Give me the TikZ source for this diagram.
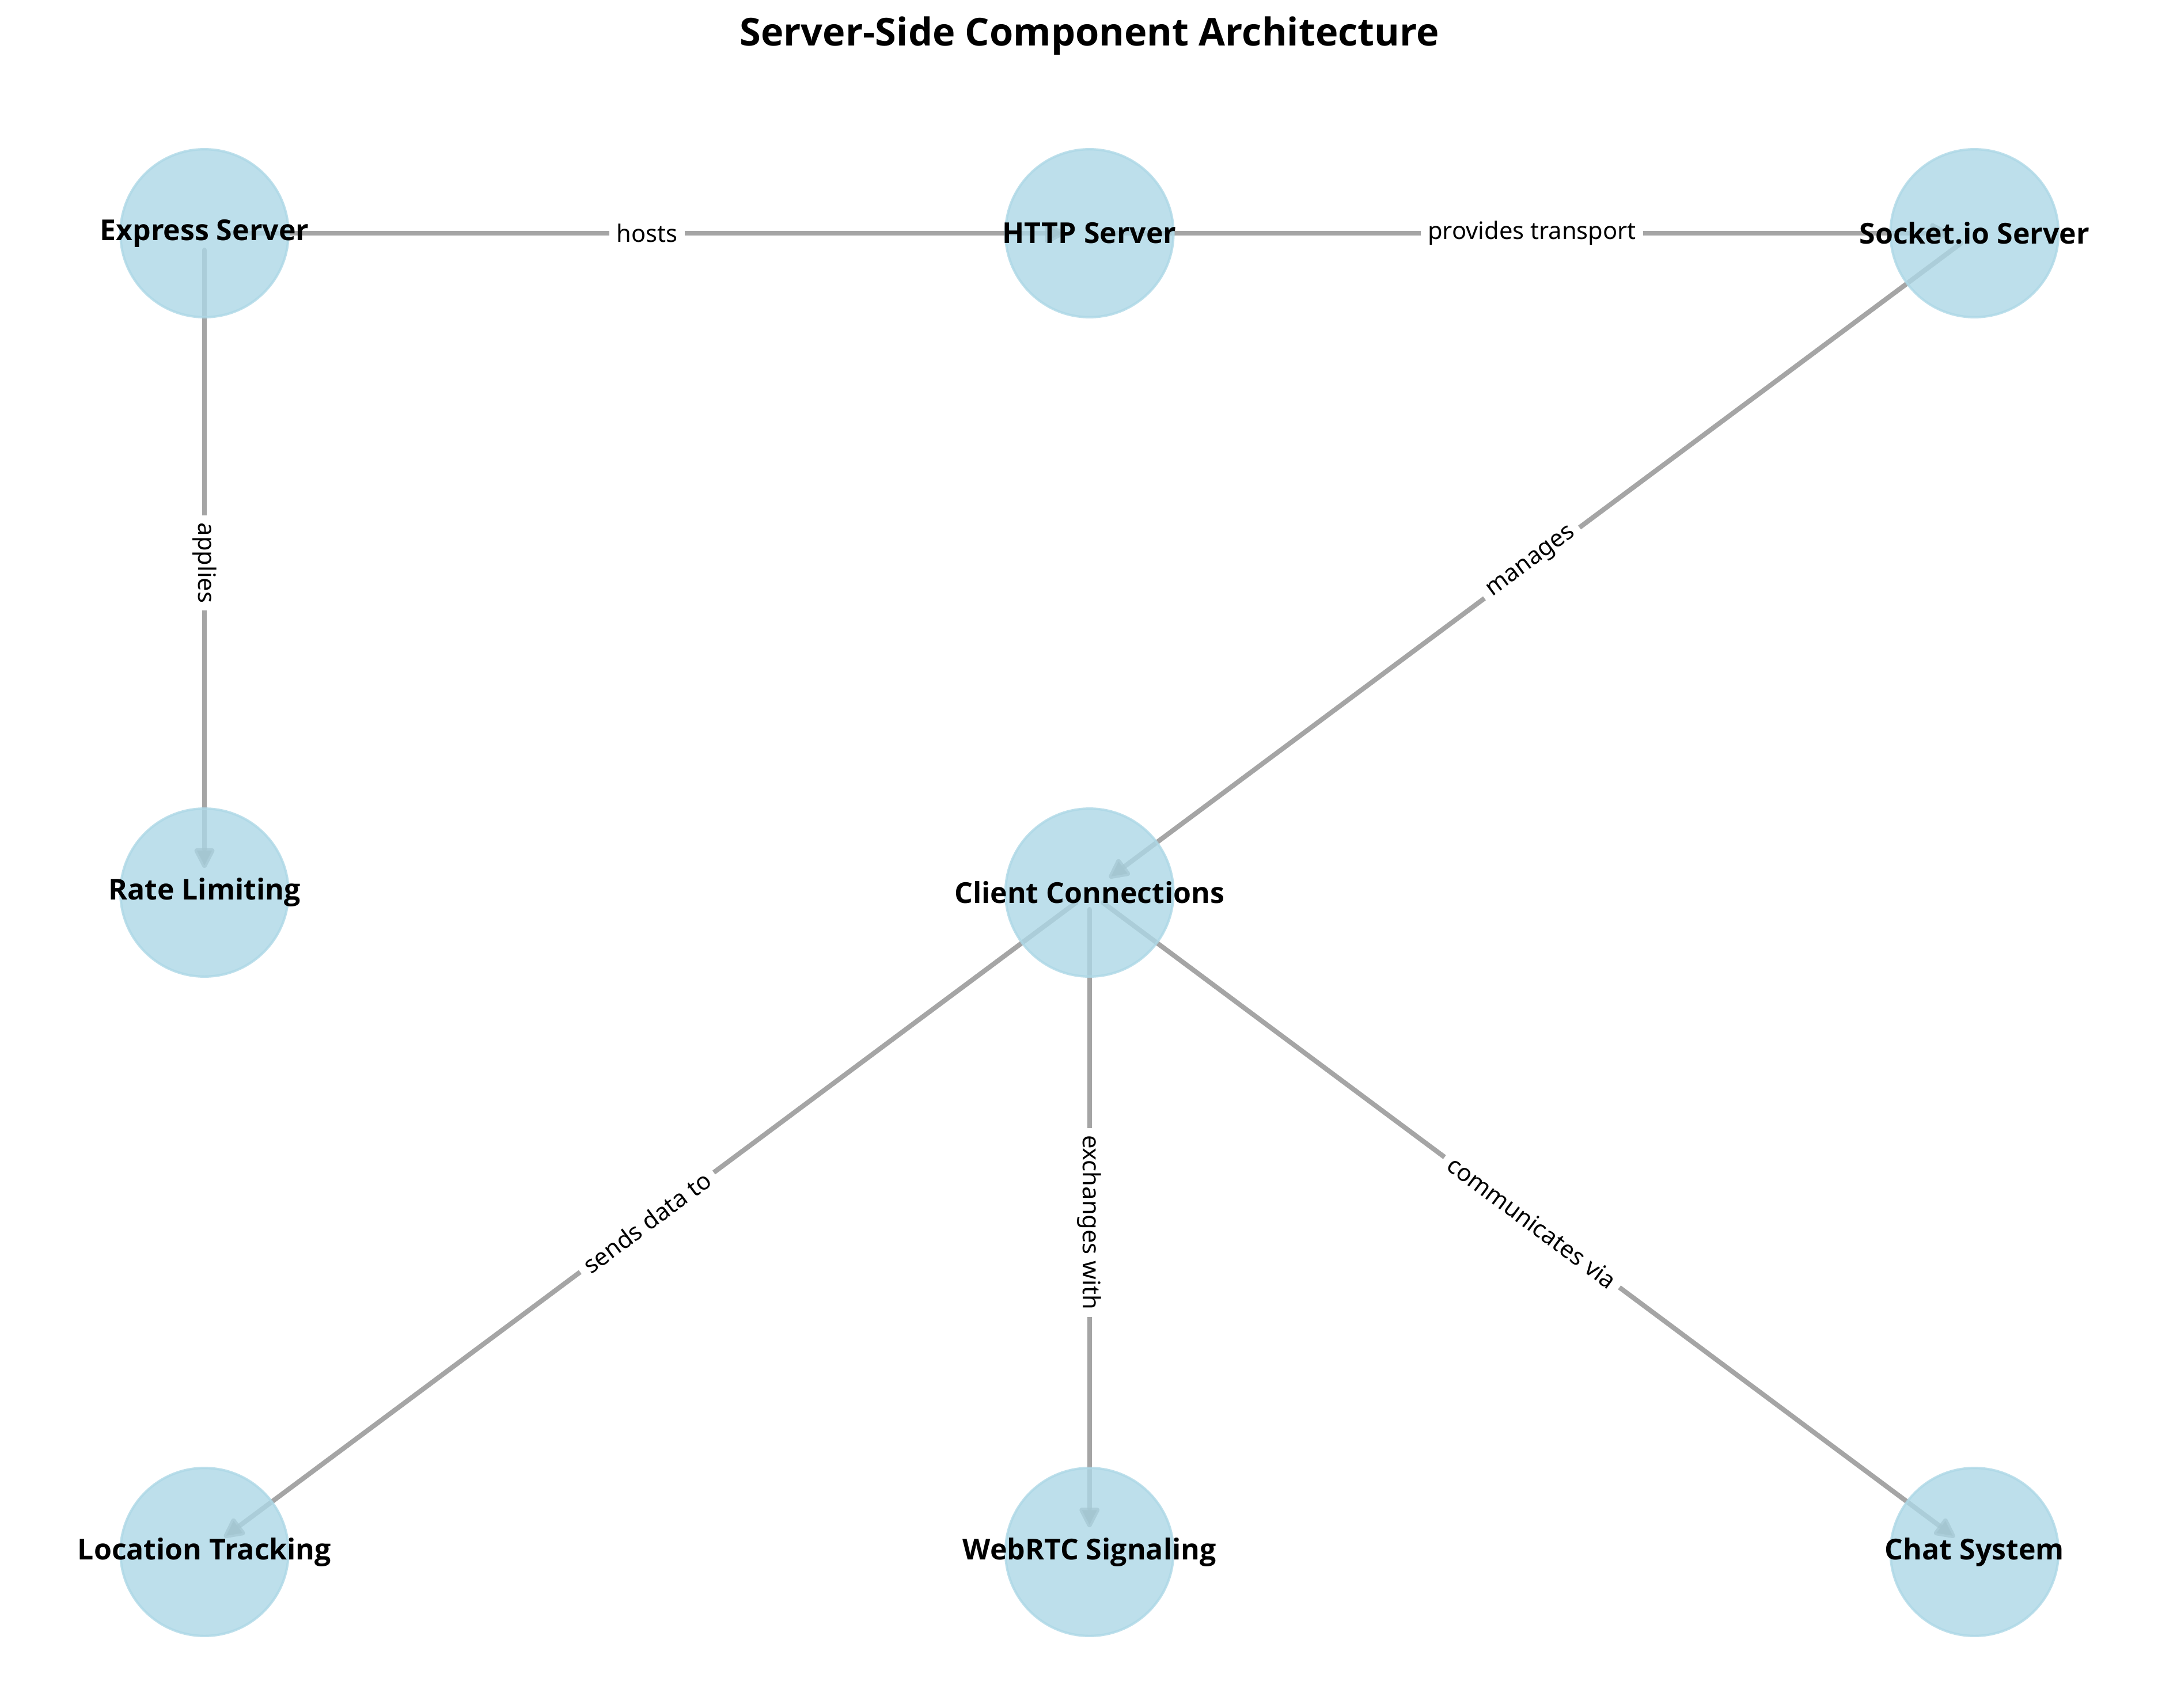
\documentclass[tikz,border=0pt]{standalone}
\usepackage{fontspec}
\setmainfont{Open Sans}
\newfontfamily\tagfont{Noto Sans}
\usetikzlibrary{positioning,arrows.meta,backgrounds}

\definecolor{nodeblue}{HTML}{ADD8E6}
\definecolor{edgegray}{HTML}{808080}

\begin{document}
\begin{tikzpicture}
[
  comp/.style={circle, fill=nodeblue, draw=nodeblue, fill opacity=0.8, draw opacity=0.8, text opacity=1,
    line width=1pt, minimum size=70pt, inner sep=0pt, font=\bfseries\fontsize{12}{14}\selectfont},
  link/.style={draw=edgegray, draw opacity=0.7, line width=2pt, line cap=round,
    shorten <=7pt, shorten >=10.3pt, -{Triangle[length=9.5pt,width=9pt,round]}},
  tag/.style={fill=white, fill opacity=1, text opacity=1, inner sep=3pt, sloped,
    font=\tagfont\fontsize{10}{12}\selectfont},
  node distance=274.8pt and 368.8pt,
  on grid
]
 \node[comp] (express) {\makebox[0pt]{Express Server}};
 \node[comp, right=of express] (http) {\makebox[0pt]{HTTP Server}};
 \node[comp, right=of http] (socket) {\makebox[0pt]{Socket.io Server}};
 \node[comp, below=of express] (ratelimit) {\makebox[0pt]{Rate Limiting}};
 \node[comp, below=of http] (clients) {\makebox[0pt]{Client Connections}};
 \node[comp, below=of ratelimit] (location) {\makebox[0pt]{Location Tracking}};
 \node[comp, below=of clients] (webrtc) {\makebox[0pt]{WebRTC Signaling}};
 \node[comp, right=of webrtc] (chat) {\makebox[0pt]{Chat System}};

 \node[anchor=base, font=\bfseries\fontsize{16}{19}\selectfont] (title)
   at ([yshift=78pt]http.center) {Server-Side Component Architecture};

 \begin{pgfonlayer}{background}
  \path[use as bounding box, fill=white] (-85.2pt,97.2pt) rectangle (822pt,-614.64pt);
  \path
    (express.center) edge[link] node[tag] {hosts} (http.center)
    (http.center) edge[link] node[tag] {provides transport} (socket.center)
    (express.center) edge[link] node[tag] {applies} (ratelimit.center)
    (socket.center) edge[link] node[tag] {manages} (clients.center)
    (clients.center) edge[link] node[tag] {sends data to} (location.center)
    (clients.center) edge[link] node[tag] {exchanges with} (webrtc.center)
    (clients.center) edge[link] node[tag] {communicates via} (chat.center);
 \end{pgfonlayer}
\end{tikzpicture}
\end{document}
